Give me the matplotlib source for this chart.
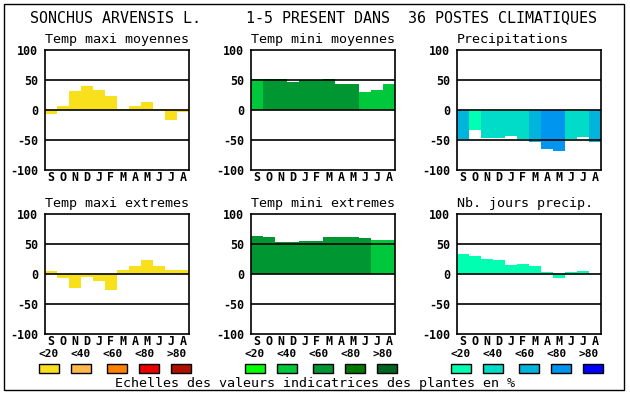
import matplotlib
matplotlib.use("Agg")
import matplotlib.pyplot as plt
from matplotlib.patches import Rectangle

# months Sept -> Aug
months = ["S", "O", "N", "D", "J", "F", "M", "A", "M", "J", "J", "A"]

# values per panel (percent) and colour class (0:<20 .. 4:>80)
tmax_moy = [-6, 7, 32, 40, 33, 23, 2, 7, 14, 2, -16, -4]
tmax_moy_cls = [0] * 12

tmin_moy = [52, 52, 52, 47, 50, 50, 52, 44, 44, 30, 34, 44]
tmin_moy_cls = [1, 2, 2, 2, 2, 2, 2, 2, 2, 1, 1, 1]

precip = [-48, -33, -46, -46, -43, -48, -53, -65, -68, -48, -45, -53]
precip_cls = [2, 0, 1, 1, 1, 1, 2, 3, 3, 1, 1, 2]

tmax_ext = [5, -6, -24, -5, -11, -26, 7, 13, 23, 13, 7, 7]
tmax_ext_cls = [0] * 12

tmin_ext = [63, 62, 53, 53, 55, 55, 62, 62, 62, 60, 57, 57]
tmin_ext_cls = [2, 2, 2, 2, 2, 2, 2, 2, 2, 2, 1, 1]

jours = [33, 30, 25, 23, 15, 17, 13, 3, -7, 3, 5, 0]
jours_cls = [0] * 12

yellows = ["#f8e01c", "#ffb84c", "#ff8000", "#e80000", "#b01000"]
greens = ["#00ff00", "#00c83c", "#009632", "#007800", "#006420"]
blues = ["#00ffb0", "#00dcc8", "#00b4dc", "#0096f0", "#0000ff"]

scale_labels = ["<20", "<40", "<60", "<80", ">80"]

title = "SONCHUS ARVENSIS L.     1-5 PRESENT DANS  36 POSTES CLIMATIQUES"
footer = "Echelles des valeurs indicatrices des plantes en %"

panels = [
    ("Temp maxi moyennes", tmax_moy, tmax_moy_cls, yellows, 45, 50),
    ("Temp mini moyennes", tmin_moy, tmin_moy_cls, greens, 251, 50),
    ("Precipitations", precip, precip_cls, blues, 457, 50),
    ("Temp maxi extremes", tmax_ext, tmax_ext_cls, yellows, 45, 214),
    ("Temp mini extremes", tmin_ext, tmin_ext_cls, greens, 251, 214),
    ("Nb. jours precip.", jours, jours_cls, blues, 457, 214),
]

W, H = 630, 394
mono = "DejaVu Sans Mono"
plt.rcParams["font.family"] = mono

fig = plt.figure(figsize=(W / 100, H / 100), dpi=100)

# outer frame
fig.patches.append(Rectangle((4 / W, 1 - 390 / H), 620 / W, 386 / H,
                             transform=fig.transFigure, fill=False,
                             edgecolor="black", linewidth=1.0))

fig.text(314 / W, 1 - 18 / H, title, ha="center", va="center",
         fontsize=10.8, family=mono)

for name, vals, cls, pal, x0, y0 in panels:
    ax = fig.add_axes([x0 / W, 1 - (y0 + 120) / H, 144 / W, 120 / H])
    cols = [pal[c] for c in cls]
    ax.bar(range(12), vals, width=1.0, align="edge", color=cols,
           linewidth=0, zorder=2)
    for yv in (50, 0, -50):
        ax.axhline(yv, color="black", linewidth=1.2, zorder=3)
    ax.set_xlim(0, 12)
    ax.set_ylim(-100, 100)
    ax.set_xticks([i + 0.5 for i in range(12)])
    ax.set_xticklabels(months, fontsize=8.4, fontweight="bold", family=mono)
    ax.set_yticks([-100, -50, 0, 50, 100])
    ax.set_yticklabels(["-100", "-50", "0", "50", "100"], fontsize=8.4,
                       fontweight="bold", family=mono)
    ax.tick_params(length=0, pad=1.0, axis="x")
    ax.tick_params(length=0, pad=5, axis="y")
    for s in ax.spines.values():
        s.set_linewidth(1.2)
    ax.set_title(name, fontsize=9.6, family=mono, pad=5, loc="left")

    # legend for the bottom row
    if y0 == 214:
        box_off = [0, 32, 68, 100, 132]
        for i in range(5):
            fig.text((x0 + 4 + 32 * i) / W, 1 - 354 / H, scale_labels[i],
                     ha="center", va="center", fontsize=8.0,
                     fontweight="bold", family=mono)
            fig.patches.append(Rectangle(((x0 - 6 + box_off[i]) / W, 1 - 373 / H),
                                         20 / W, 9 / H, transform=fig.transFigure,
                                         facecolor=pal[i], edgecolor="black",
                                         linewidth=1.0))

fig.text(315 / W, 1 - 383 / H, footer, ha="center", va="center",
         fontsize=9.6, family=mono)

fig.savefig("out.png", dpi=100)
